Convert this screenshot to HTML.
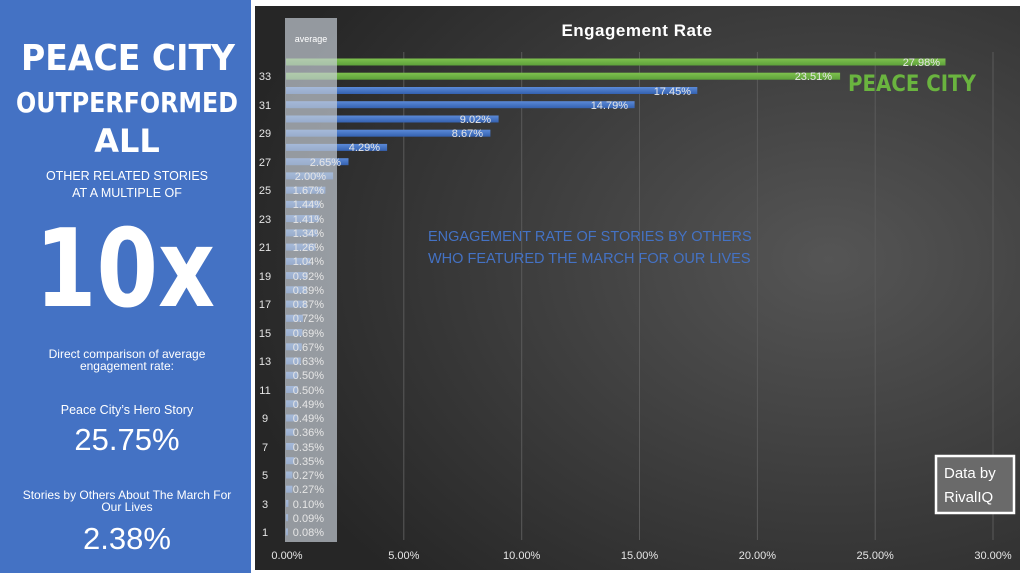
<!DOCTYPE html>
<html><head><meta charset="utf-8"><style>
html,body{margin:0;padding:0;background:#fff;width:1024px;height:576px;overflow:hidden}
svg{display:block}
</style></head><body>
<svg width="1024" height="576" viewBox="0 0 1024 576" xmlns="http://www.w3.org/2000/svg" font-family="Liberation Sans, DejaVu Sans, sans-serif">
<defs>
<radialGradient id="bg" cx="0.75" cy="0.45" r="0.8">
<stop offset="0" stop-color="#555"/><stop offset="1" stop-color="#262626"/>
</radialGradient>
<linearGradient id="bb" x1="0" y1="0" x2="0" y2="1"><stop offset="0" stop-color="#5b8ad8"/><stop offset="1" stop-color="#3461b0"/></linearGradient>
<linearGradient id="gb" x1="0" y1="0" x2="0" y2="1"><stop offset="0" stop-color="#7fc24e"/><stop offset="1" stop-color="#5da03a"/></linearGradient>
</defs>
<rect x="0" y="0" width="251" height="573" fill="#4472c4"/>
<g fill="#fff" text-anchor="middle">
<text x="128" y="70" font-size="36" font-weight="bold" font-family="DejaVu Sans, sans-serif" textLength="214" lengthAdjust="spacingAndGlyphs">PEACE CITY</text>
<text x="127" y="112" font-size="28" font-weight="bold" font-family="DejaVu Sans, sans-serif" textLength="222" lengthAdjust="spacingAndGlyphs">OUTPERFORMED</text>
<text x="127" y="152" font-size="32" font-weight="bold" font-family="DejaVu Sans, sans-serif">ALL</text>
<text x="127" y="180" font-size="12.5">OTHER RELATED STORIES</text>
<text x="127" y="197" font-size="12.5">AT A MULTIPLE OF</text>
<text x="125" y="306" font-size="108" font-weight="bold" font-family="DejaVu Sans, sans-serif" textLength="180" lengthAdjust="spacingAndGlyphs">10x</text>
<text x="127" y="358" font-size="12">Direct comparison of average</text>
<text x="127" y="370" font-size="12">engagement rate:</text>
<text x="127" y="414" font-size="12.5">Peace City’s Hero Story</text>
<text x="127" y="450" font-size="31">25.75%</text>
<text x="127" y="499" font-size="12">Stories by Others About The March For</text>
<text x="127" y="511" font-size="12">Our Lives</text>
<text x="127" y="549" font-size="31">2.38%</text>
</g>
<rect x="255" y="6" width="765" height="564" fill="url(#bg)"/>
<g stroke="#5a5a5a" stroke-width="1">
<line x1="403.8" y1="52" x2="403.8" y2="540"/><line x1="521.7" y1="52" x2="521.7" y2="540"/>
<line x1="639.5" y1="52" x2="639.5" y2="540"/><line x1="757.4" y1="52" x2="757.4" y2="540"/>
<line x1="875.2" y1="52" x2="875.2" y2="540"/><line x1="993" y1="52" x2="993" y2="540"/>
</g>
<text x="637" y="36" fill="#fff" font-size="17" font-weight="bold" text-anchor="middle" letter-spacing="0.5">Engagement  Rate</text>
<g>
<rect x="286" y="58.5" width="659.5" height="7" fill="url(#gb)"/>
<rect x="286" y="72.7" width="554.1" height="7" fill="url(#gb)"/>
<g fill="url(#bb)">
<rect x="286" y="87" width="411.3" height="7"/>
<rect x="286" y="101.2" width="348.6" height="7"/>
<rect x="286" y="115.5" width="212.6" height="7"/>
<rect x="286" y="129.7" width="204.4" height="7"/>
<rect x="286" y="143.9" width="101.1" height="7"/>
<rect x="286" y="158.2" width="62.5" height="7"/>
<rect x="286" y="172.4" width="47.1" height="7"/>
<rect x="286" y="186.7" width="39.4" height="7"/>
<rect x="286" y="200.9" width="33.9" height="7"/>
<rect x="286" y="215.1" width="33.2" height="7"/>
<rect x="286" y="229.4" width="31.6" height="7"/>
<rect x="286" y="243.6" width="29.7" height="7"/>
<rect x="286" y="257.9" width="24.5" height="7"/>
<rect x="286" y="272.1" width="21.7" height="7"/>
<rect x="286" y="286.3" width="21" height="7"/>
<rect x="286" y="300.6" width="20.5" height="7"/>
<rect x="286" y="314.8" width="17" height="7"/>
<rect x="286" y="329.1" width="16.3" height="7"/>
<rect x="286" y="343.3" width="15.8" height="7"/>
<rect x="286" y="357.5" width="14.8" height="7"/>
<rect x="286" y="371.8" width="11.8" height="7"/>
<rect x="286" y="386" width="11.8" height="7"/>
<rect x="286" y="400.3" width="11.5" height="7"/>
<rect x="286" y="414.5" width="11.5" height="7"/>
<rect x="286" y="428.7" width="8.5" height="7"/>
<rect x="286" y="443" width="8.2" height="7"/>
<rect x="286" y="457.2" width="8.2" height="7"/>
<rect x="286" y="471.5" width="6.4" height="7"/>
<rect x="286" y="485.7" width="6.4" height="7"/>
<rect x="286" y="499.9" width="2.4" height="7"/>
<rect x="286" y="514.2" width="2.1" height="7"/>
<rect x="286" y="528.4" width="1.9" height="7"/>
</g>
</g>
<rect x="285" y="18" width="52" height="524" fill="#c8d0d8" fill-opacity="0.68"/>
<text x="311" y="42" fill="#fff" font-size="9" text-anchor="middle">average</text>
<g fill="#e6e6e6" font-size="11" text-anchor="end">
<text x="940" y="66">27.98%</text>
<text x="832" y="80">23.51%</text>
<text x="691" y="95">17.45%</text>
<text x="628" y="109">14.79%</text>
<text x="491" y="123">9.02%</text>
<text x="483" y="137">8.67%</text>
<text x="380" y="151">4.29%</text>
<text x="341" y="166">2.65%</text>
<text x="326" y="180">2.00%</text>
<text x="324" y="194">1.67%</text>
<text x="324" y="208">1.44%</text>
<text x="324" y="223">1.41%</text>
<text x="324" y="237">1.34%</text>
<text x="324" y="251">1.26%</text>
<text x="324" y="265">1.04%</text>
<text x="324" y="280">0.92%</text>
<text x="324" y="294">0.89%</text>
<text x="324" y="308">0.87%</text>
<text x="324" y="322">0.72%</text>
<text x="324" y="337">0.69%</text>
<text x="324" y="351">0.67%</text>
<text x="324" y="365">0.63%</text>
<text x="324" y="379">0.50%</text>
<text x="324" y="394">0.50%</text>
<text x="324" y="408">0.49%</text>
<text x="324" y="422">0.49%</text>
<text x="324" y="436">0.36%</text>
<text x="324" y="451">0.35%</text>
<text x="324" y="465">0.35%</text>
<text x="324" y="479">0.27%</text>
<text x="324" y="493">0.27%</text>
<text x="324" y="508">0.10%</text>
<text x="324" y="522">0.09%</text>
<text x="324" y="536">0.08%</text>
</g>
<g fill="#e6e6e6" font-size="11" text-anchor="middle">
<text x="265" y="80">33</text><text x="265" y="109">31</text><text x="265" y="137">29</text>
<text x="265" y="166">27</text><text x="265" y="194">25</text><text x="265" y="223">23</text>
<text x="265" y="251">21</text><text x="265" y="280">19</text><text x="265" y="308">17</text>
<text x="265" y="337">15</text><text x="265" y="365">13</text><text x="265" y="394">11</text>
<text x="265" y="422">9</text><text x="265" y="451">7</text><text x="265" y="479">5</text>
<text x="265" y="508">3</text><text x="265" y="536">1</text>
</g>
<g fill="#e6e6e6" font-size="11" text-anchor="middle">
<text x="287" y="559">0.00%</text><text x="403.8" y="559">5.00%</text><text x="521.7" y="559">10.00%</text>
<text x="639.5" y="559">15.00%</text><text x="757.4" y="559">20.00%</text><text x="875.2" y="559">25.00%</text>
<text x="993" y="559">30.00%</text>
</g>
<text x="912" y="91" fill="#6ab43f" font-size="22" font-weight="bold" font-family="DejaVu Sans, sans-serif" text-anchor="middle" textLength="128" lengthAdjust="spacingAndGlyphs">PEACE CITY</text>
<g fill="#4472c4" font-size="14.5">
<text x="428" y="241">ENGAGEMENT RATE OF STORIES BY OTHERS</text>
<text x="428" y="263">WHO FEATURED THE MARCH FOR OUR LIVES</text>
</g>
<rect x="936" y="456" width="78" height="57" fill="#6a6a6a" stroke="#fff" stroke-width="2.5"/>
<g fill="#fff" font-size="15">
<text x="944" y="478">Data by</text>
<text x="944" y="502">RivalIQ</text>
</g>
</svg>
</body></html>
